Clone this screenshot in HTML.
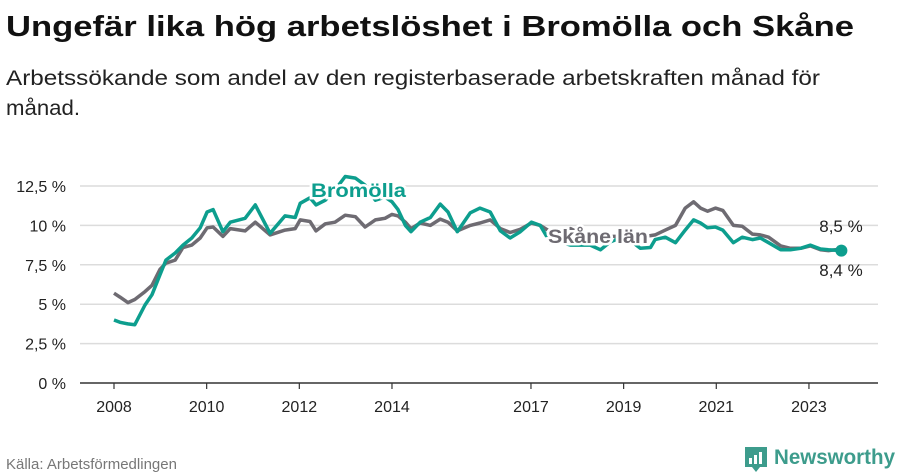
<!DOCTYPE html>
<html><head><meta charset="utf-8"><style>
html,body{margin:0;padding:0;background:#fff;}
svg{display:block;font-family:"Liberation Sans",sans-serif;}
</style></head><body>
<svg width="900" height="474" viewBox="0 0 900 474">
<text x="6" y="36" font-size="29" font-weight="bold" fill="#111" textLength="848" lengthAdjust="spacingAndGlyphs">Ungefär lika hög arbetslöshet i Bromölla och Skåne</text>
<text x="6" y="85" font-size="21" fill="#222" textLength="814" lengthAdjust="spacingAndGlyphs">Arbetssökande som andel av den registerbaserade arbetskraften månad för</text>
<text x="6" y="115" font-size="21" fill="#222" textLength="74" lengthAdjust="spacingAndGlyphs">månad.</text>
<g id="grid"></g>
<g id="yticks"></g>
<g id="xticks"></g>
<g id="series"></g>
<text x="6" y="469" font-size="15" fill="#777">Källa: Arbetsförmedlingen</text>
<g>
<path d="M745 447 h22 v20 h-7 l-4 5 l-4 -5 h-7 z" fill="#3d9c8c"/>
<rect x="749" y="458" width="3" height="6" fill="#fff"/><rect x="754" y="455" width="3" height="9" fill="#fff"/><rect x="759" y="452" width="3" height="12" fill="#fff"/>
<text x="774" y="464" font-size="21" font-weight="bold" fill="#3d9c8c" textLength="121" lengthAdjust="spacingAndGlyphs">Newsworthy</text>
</g>
</svg>
<script>
const years=[2008.00,2008.13,2008.30,2008.45,2008.67,2008.82,2008.99,2009.12,2009.32,2009.49,2009.68,2009.86,2010.01,2010.14,2010.35,2010.51,2010.83,2011.05,2011.37,2011.69,2011.91,2012.02,2012.23,2012.36,2012.56,2012.77,2012.99,2013.21,2013.42,2013.64,2013.85,2014.00,2014.13,2014.29,2014.41,2014.61,2014.83,2015.04,2015.21,2015.41,2015.69,2015.90,2016.12,2016.34,2016.55,2016.77,2017.01,2017.20,2017.42,2017.63,2017.85,2018.06,2018.28,2018.50,2018.71,2018.93,2019.14,2019.36,2019.58,2019.68,2019.90,2020.12,2020.33,2020.51,2020.66,2020.81,2020.98,2021.14,2021.37,2021.56,2021.78,2021.95,2022.13,2022.39,2022.60,2022.82,2023.03,2023.25,2023.42,2023.70];
const skane=[5.7,5.45,5.1,5.3,5.8,6.2,7.2,7.6,7.8,8.6,8.75,9.2,9.85,9.9,9.3,9.8,9.65,10.2,9.4,9.7,9.8,10.35,10.25,9.65,10.1,10.2,10.65,10.55,9.9,10.35,10.45,10.7,10.6,10.2,9.8,10.15,10.0,10.4,10.2,9.65,10.0,10.15,10.35,9.8,9.55,9.75,10.15,10.0,9.6,9.7,9.8,9.5,9.4,9.3,9.3,9.3,9.3,9.3,9.35,9.4,9.7,10.0,11.1,11.5,11.1,10.9,11.1,10.95,10.0,9.95,9.45,9.4,9.25,8.7,8.55,8.55,8.7,8.45,8.4,8.5];
const bromolla=[4.0,3.85,3.75,3.7,4.95,5.6,6.85,7.8,8.25,8.75,9.2,9.85,10.85,11.0,9.6,10.2,10.45,11.3,9.5,10.6,10.5,11.4,11.75,11.3,11.6,12.25,13.1,13.0,12.55,11.6,11.8,11.5,11.0,10.0,9.6,10.2,10.5,11.35,10.85,9.6,10.8,11.1,10.85,9.65,9.2,9.6,10.2,10.0,8.9,8.95,8.75,8.75,8.75,8.45,8.95,9.2,9.05,8.55,8.6,9.1,9.25,8.9,9.7,10.35,10.15,9.85,9.9,9.7,8.9,9.25,9.1,9.2,8.9,8.45,8.45,8.55,8.75,8.5,8.45,8.4];
const yTicks=[0,2.5,5,7.5,10,12.5];
const yTickLabels=["0 %","2,5 %","5 %","7,5 %","10 %","12,5 %"];
const xTicks=[2008,2010,2012,2014,2017,2019,2021,2023];
const NS="http://www.w3.org/2000/svg";
const xs=v=>114+(v-2008)*46.33;
const ys=v=>383-v*15.76;
function mk(tag,attrs,parent){const e=document.createElementNS(NS,tag);for(const k in attrs)e.setAttribute(k,attrs[k]);parent.appendChild(e);return e;}
const grid=document.getElementById('grid'),yt=document.getElementById('yticks'),xt=document.getElementById('xticks'),ser=document.getElementById('series');
yTicks.forEach((t,i)=>{
  if(t>0){const l=mk('line',{x1:80,x2:878,y1:ys(t),y2:ys(t),stroke:'#dcdcdc','stroke-width':1.5},grid);
  
  }
  const tx=mk('text',{x:66,y:ys(t)+6,'font-size':16,fill:'#222','text-anchor':'end'},yt);
  tx.textContent=yTickLabels[i];
  
  
});
const ax=mk('line',{x1:80,x2:878,y1:383,y2:383,stroke:'#333','stroke-width':1.5},xt);


xTicks.forEach(t=>{
  const tk=mk('line',{x1:xs(t),x2:xs(t),y1:383,y2:389,stroke:'#333','stroke-width':1.2},xt);
  
  
  const tx=mk('text',{x:xs(t),y:412,'font-size':16,fill:'#222','text-anchor':'middle'},xt);
  tx.textContent=t;
  
  
});
function pathOf(arr){return arr.map((v,i)=>(i?'L':'M')+xs(years[i]).toFixed(1)+' '+ys(v).toFixed(1)).join(' ');}
const ps=mk('path',{d:pathOf(skane),fill:'none',stroke:'#6e6b72','stroke-width':3.5,'stroke-linejoin':'round'},ser);


const pb=mk('path',{d:pathOf(bromolla),fill:'none',stroke:'#0d9e8e','stroke-width':3.5,'stroke-linejoin':'round'},ser);


const last=years.length-1;
const dot=mk('circle',{cx:xs(years[last]),cy:ys(bromolla[last]),r:6,fill:'#0d9e8e'},ser);


const lb=mk('text',{x:311,y:197,'font-size':19,'font-weight':'bold',fill:'#0d9e8e',stroke:'#fff','stroke-width':5,'paint-order':'stroke',textLength:95,lengthAdjust:'spacingAndGlyphs'},ser);
lb.textContent='Bromölla';


const ls=mk('text',{x:548,y:243,'font-size':19,'font-weight':'bold',fill:'#6e6b72',stroke:'#fff','stroke-width':5,'paint-order':'stroke',textLength:100,lengthAdjust:'spacingAndGlyphs'},ser);
ls.textContent='Skåne län';


const v1=mk('text',{x:841,y:232,'font-size':17,fill:'#222','text-anchor':'middle'},ser);
v1.textContent='8,5 %';


const v2=mk('text',{x:841,y:276,'font-size':17,fill:'#222','text-anchor':'middle'},ser);
v2.textContent='8,4 %';


</script>
</body></html>
